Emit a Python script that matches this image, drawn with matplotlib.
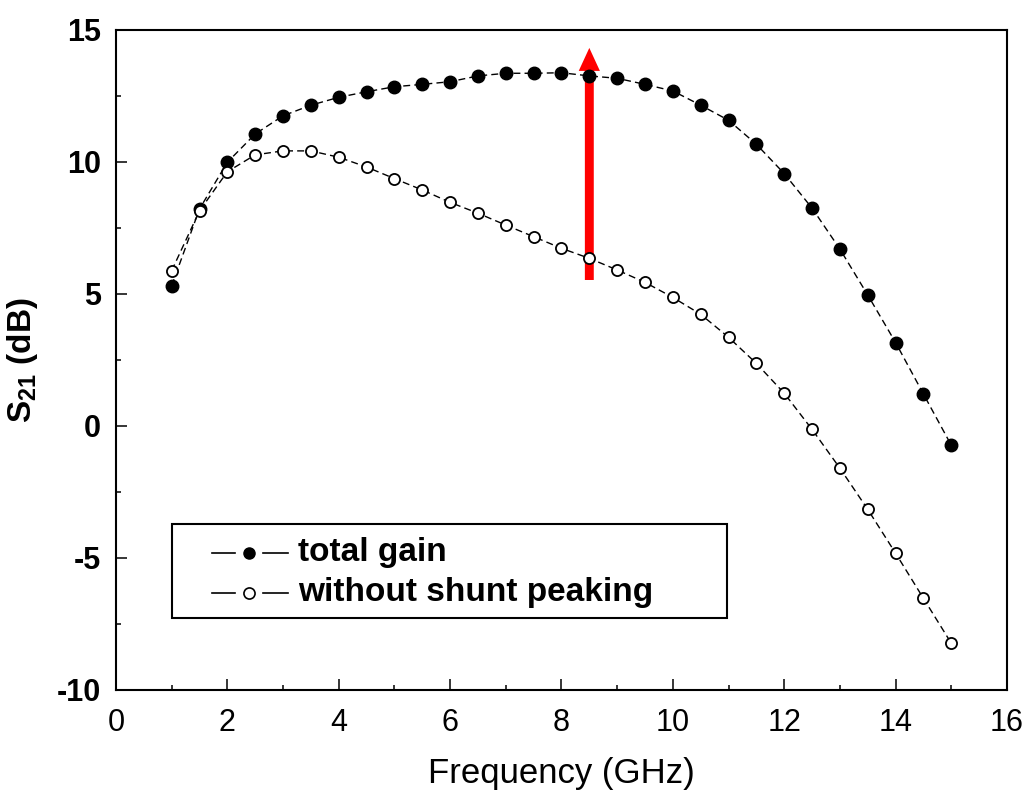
import matplotlib
matplotlib.use("Agg")
import matplotlib.pyplot as plt
from matplotlib.ticker import MultipleLocator
from matplotlib.patches import Rectangle
from matplotlib.lines import Line2D

freq = [1, 1.5, 2, 2.5, 3, 3.5, 4, 4.5, 5, 5.5, 6, 6.5, 7, 7.5, 8, 8.5, 9, 9.5,
        10, 10.5, 11, 11.5, 12, 12.5, 13, 13.5, 14, 14.5, 15]
total_gain = [5.31, 8.22, 9.99, 11.06, 11.75, 12.15, 12.45, 12.66, 12.85, 12.94,
              13.04, 13.26, 13.36, 13.36, 13.38, 13.26, 13.17, 12.94, 12.69, 12.15,
              11.58, 10.67, 9.56, 8.25, 6.70, 4.96, 3.16, 1.21, -0.73]
without_shunt = [5.88, 8.15, 9.63, 10.27, 10.42, 10.42, 10.18, 9.81, 9.37, 8.94,
                 8.47, 8.06, 7.61, 7.17, 6.73, 6.35, 5.91, 5.44, 4.87, 4.23,
                 3.36, 2.37, 1.24, -0.13, -1.60, -3.16, -4.82, -6.53, -8.23]
series_labels = ['total gain', 'without shunt peaking']
arrow_x = 8.5
arrow_y = [5.53, 14.32]

plt.rcParams['font.family'] = ['Liberation Sans', 'DejaVu Sans']
plt.rcParams['axes.unicode_minus'] = False

fig = plt.figure(figsize=(10.29, 7.93), dpi=100)
ax = fig.add_axes([0.1127, 0.1299, 0.8659, 0.8323])

dash = (0, (5, 3))
ax.plot(freq, total_gain, color='black', lw=1.0, ls=dash, marker='o',
        ms=9, mfc='black', mec='black', zorder=3)
ax.plot(freq, without_shunt, color='black', lw=1.0, ls=dash, marker='o',
        ms=8, mfc='white', mec='black', mew=1.3, zorder=3)

ax.arrow(arrow_x, arrow_y[0], 0, arrow_y[1] - arrow_y[0], width=0.16,
         head_width=0.38, head_length=0.87, length_includes_head=True,
         color='red', lw=0, zorder=2)

ax.set_xlim(0, 16)
ax.set_ylim(-10, 15)
ax.xaxis.set_major_locator(MultipleLocator(2))
ax.xaxis.set_minor_locator(MultipleLocator(1))
ax.yaxis.set_major_locator(MultipleLocator(5))
ax.yaxis.set_minor_locator(MultipleLocator(2.5))
ax.tick_params(which='major', direction='in', length=8, width=1.1,
               top=False, right=False)
ax.tick_params(which='minor', direction='in', length=3.6, width=1.1,
               top=False, right=False)
ax.tick_params(axis='x', labelsize=22, pad=13)
ax.tick_params(axis='y', labelsize=22, pad=11)
for lab in ax.get_yticklabels():
    lab.set_fontweight('bold')
for sp in ax.spines.values():
    sp.set_linewidth(1.5)

ax.set_xlabel('Frequency (GHz)', fontsize=25, labelpad=14)
ax.set_ylabel(r'S$_{\mathregular{21}}$ (dB)', fontsize=24, fontweight='bold', labelpad=12)

# legend box (drawn manually to reproduce the "—●—" handle style)
tr = ax.transAxes
ax.add_patch(Rectangle((0.0629, 0.1091), 0.6228, 0.1424, transform=tr,
                       fill=False, ec='black', lw=1.5, zorder=5))
rows = [0.2076, 0.1470]
styles = [dict(mfc='black', mec='black', mew=1.0),
          dict(mfc='white', mec='black', mew=1.2)]
for yy, lab, st in zip(rows, series_labels, styles):
    ax.add_line(Line2D([0.1077, 0.1336], [yy, yy], transform=tr, color='black', lw=1.2, zorder=5))
    ax.add_line(Line2D([0.165, 0.193], [yy, yy], transform=tr, color='black', lw=1.2, zorder=5))
    ax.add_line(Line2D([0.149], [yy], transform=tr, marker='o', ms=8, ls='none', zorder=5, **st))
    ax.text(0.204, yy, lab, transform=tr, fontsize=24, fontweight='bold',
            va='center', ha='left', zorder=5)

fig.savefig('out.png', dpi=100)
